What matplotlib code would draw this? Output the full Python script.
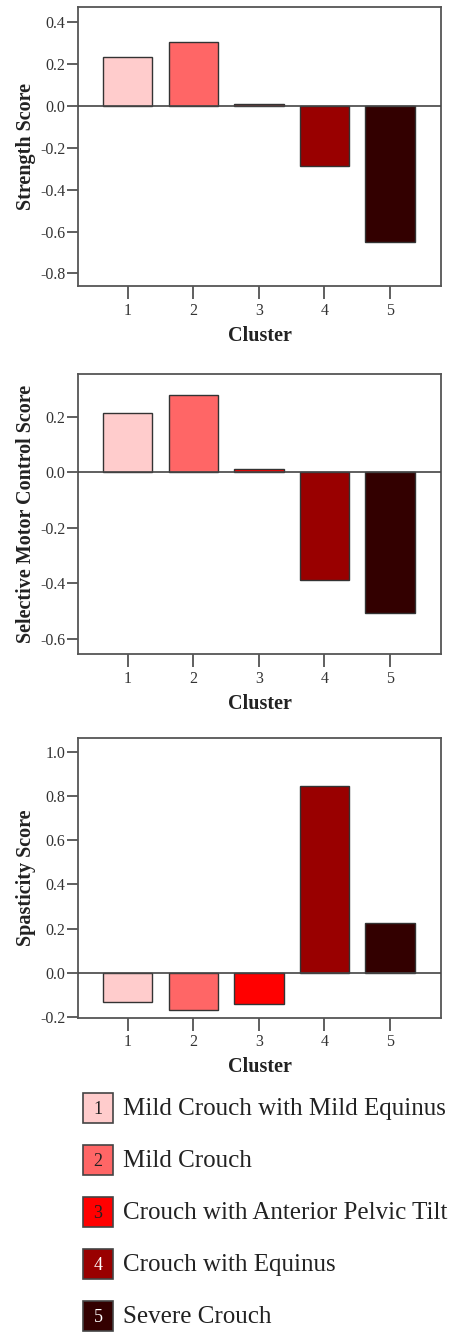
import numpy as np
import matplotlib.pyplot as plt
from matplotlib.patches import Rectangle

plt.rcParams['font.family'] = ['Liberation Serif', 'DejaVu Serif']

clusters = [1, 2, 3, 4, 5]
colors = ['#FFCCCC', '#FF6666', '#FF0000', '#990000', '#330000']
names = ['Mild Crouch with Mild Equinus', 'Mild Crouch',
         'Crouch with Anterior Pelvic Tilt', 'Crouch with Equinus',
         'Severe Crouch']

strength = [0.23, 0.305, 0.01, -0.29, -0.65]
smc = [0.212, 0.277, 0.012, -0.387, -0.507]
spasticity = [-0.133, -0.169, -0.142, 0.846, 0.227]

panels = [
    (strength, 'Strength Score', (-0.86, 0.47), [-0.8, -0.6, -0.4, -0.2, 0.0, 0.2, 0.4],
     [0.172, 0.7854, 0.802, 0.2093]),
    (smc, 'Selective Motor Control Score', (-0.654, 0.354), [-0.6, -0.4, -0.2, 0.0, 0.2],
     [0.172, 0.5094, 0.802, 0.2100]),
    (spasticity, 'Spasticity Score', (-0.204, 1.062), [-0.2, 0.0, 0.2, 0.4, 0.6, 0.8, 1.0],
     [0.172, 0.2365, 0.802, 0.2096]),
]

fig = plt.figure(figsize=(4.53, 13.33), dpi=100)

for vals, label, ylim, yt, pos in panels:
    ax = fig.add_axes(pos)
    ax.bar(clusters, vals, width=0.75, color=colors, edgecolor='#333333', linewidth=1.0, zorder=2)
    ax.axhline(0, color='#444444', lw=1.2, zorder=3)
    ax.set_xlim(0.24, 5.78)
    ax.set_ylim(*ylim)
    ax.set_yticks(yt)
    ax.set_yticklabels(['%.1f' % v for v in yt])
    ax.set_xticks(clusters)
    ax.tick_params(axis='y', length=8, width=1.2, color='#444444', pad=1,
                   labelsize=11.5, labelcolor='#333333')
    ax.tick_params(axis='x', length=9, width=1.2, color='#444444', pad=3,
                   labelsize=11.5, labelcolor='#333333')
    for s in ax.spines.values():
        s.set_color('#555555')
        s.set_linewidth(1.3)
    ax.set_ylabel(label, fontsize=14.5, fontweight='bold', color='#222222')
    ax.yaxis.set_label_coords(-0.114, 0.5)
    ax.set_xlabel('Cluster', fontsize=14.5, fontweight='bold', color='#222222')
    ax.xaxis.set_label_coords(0.5, -0.142)

# legend drawn in pixel-like coordinates
lax = fig.add_axes([0, 0, 1, 253 / 1333])
lax.set_xlim(0, 453)
lax.set_ylim(1333, 1080)
lax.axis('off')
for i, (c, n) in enumerate(zip(colors, names)):
    yc = 1108 + i * 52
    lax.add_patch(Rectangle((83, yc - 15), 30, 30, facecolor=c, edgecolor='#444444', lw=1.2))
    lax.text(98, yc + 1, str(clusters[i]), ha='center', va='center', fontsize=13,
             color='white' if i >= 3 else '#222222')
    lax.text(123, yc + 1, n, ha='left', va='center', fontsize=18, color='#222222')

fig.savefig('out.png', dpi=100)
